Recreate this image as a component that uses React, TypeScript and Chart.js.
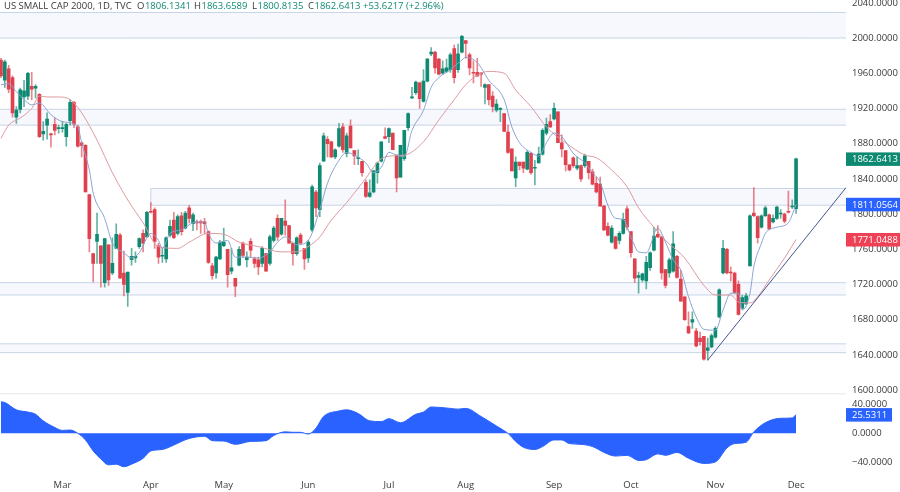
import { useEffect, useRef } from "react";
import { Chart, registerables } from "chart.js";

Chart.register(...registerables);

const opens = [
  1975, 1952, 1965, 1955, 1910, 1919, 1933, 1934, 1945, 1943,
  1936, 1891, 1901, 1891, 1902, 1897, 1897, 1888, 1906, 1927,
  1899, 1881, 1878, 1822, 1755, 1769, 1764, 1722, 1765, 1733,
  1761, 1776, 1733, 1711, 1748, 1750, 1763, 1778, 1774, 1803,
  1805, 1764, 1752, 1749, 1776, 1793, 1778, 1798, 1784, 1807,
  1789, 1791, 1791, 1791, 1780, 1741, 1733, 1749, 1764, 1760,
  1735, 1727, 1742, 1767, 1748, 1769, 1749, 1748, 1744, 1755,
  1744, 1770, 1795, 1777, 1792, 1787, 1767, 1755, 1776, 1761,
  1750, 1782, 1825, 1805, 1860, 1885, 1882, 1865, 1877, 1899,
  1869, 1900, 1872, 1863, 1860, 1836, 1820, 1825, 1847, 1860,
  1888, 1888, 1892, 1867, 1842, 1863, 1898, 1932, 1938, 1949,
  1928, 1951, 1982, 1984, 1976, 1960, 1962, 1964, 1988, 1964,
  1984, 1997, 1981, 1961, 1961, 1960, 1944, 1947, 1934, 1918,
  1919, 1914, 1893, 1874, 1841, 1859, 1859, 1851, 1869, 1852,
  1858, 1868, 1892, 1905, 1908, 1916, 1881, 1872, 1856, 1864,
  1852, 1855, 1855, 1860, 1848, 1835, 1834, 1809, 1786, 1768,
  1774, 1770, 1778, 1806, 1780, 1749, 1728, 1725, 1724, 1739,
  1759, 1777, 1774, 1737, 1733, 1735, 1752, 1726, 1706, 1672,
  1677, 1667, 1659, 1661, 1645, 1649, 1660, 1683, 1733, 1760,
  1734, 1733, 1720, 1693, 1698, 1741, 1801, 1797, 1785, 1798,
  1799, 1791, 1795, 1800, 1800, 1803, 1808, 1806.13,
];
const highs = [
  1977, 1975, 1969, 1957, 1922, 1943, 1952, 1961, 1961, 1947,
  1937, 1905, 1915, 1892, 1909, 1901, 1905, 1903, 1930, 1928,
  1901, 1882, 1879, 1822, 1755, 1801, 1764, 1772, 1765, 1773,
  1789, 1778, 1758, 1734, 1761, 1757, 1773, 1782, 1803, 1813,
  1807, 1767, 1761, 1774, 1793, 1802, 1799, 1802, 1803, 1810,
  1801, 1793, 1793, 1795, 1781, 1744, 1752, 1770, 1784, 1760,
  1761, 1727, 1763, 1768, 1757, 1772, 1751, 1751, 1763, 1755,
  1776, 1786, 1799, 1795, 1816, 1787, 1767, 1774, 1778, 1761,
  1770, 1833, 1827, 1858, 1892, 1888, 1883, 1874, 1903, 1903,
  1892, 1907, 1872, 1873, 1860, 1839, 1839, 1850, 1859, 1882,
  1898, 1898, 1892, 1867, 1878, 1895, 1915, 1944, 1951, 1950,
  1964, 1977, 1989, 1985, 1977, 1974, 1976, 1983, 1992, 1993,
  2003, 1997, 1983, 1974, 1977, 1961, 1948, 1947, 1939, 1930,
  1921, 1914, 1901, 1874, 1865, 1859, 1859, 1872, 1870, 1861,
  1876, 1897, 1909, 1913, 1926, 1916, 1890, 1872, 1856, 1865,
  1865, 1856, 1868, 1860, 1851, 1842, 1842, 1810, 1790, 1787,
  1775, 1780, 1801, 1809, 1780, 1749, 1734, 1733, 1752, 1757,
  1785, 1787, 1774, 1737, 1750, 1780, 1753, 1736, 1706, 1689,
  1689, 1670, 1666, 1661, 1659, 1664, 1672, 1715, 1770, 1761,
  1740, 1734, 1724, 1708, 1710, 1799, 1830, 1798, 1799, 1809,
  1800, 1799, 1809, 1805, 1801, 1826, 1816, 1863.66,
];
const lows = [
  1955, 1944, 1938, 1910, 1903, 1915, 1922, 1930, 1930, 1932,
  1887, 1884, 1885, 1876, 1890, 1892, 1893, 1877, 1901, 1898,
  1876, 1865, 1825, 1757, 1723, 1744, 1717, 1717, 1719, 1731,
  1761, 1727, 1707, 1695, 1742, 1745, 1761, 1757, 1774, 1801,
  1761, 1744, 1745, 1745, 1774, 1772, 1776, 1776, 1783, 1790,
  1781, 1782, 1778, 1778, 1744, 1726, 1727, 1748, 1763, 1717,
  1732, 1706, 1741, 1751, 1740, 1751, 1739, 1731, 1740, 1735,
  1742, 1768, 1770, 1776, 1776, 1767, 1742, 1753, 1766, 1737,
  1745, 1780, 1797, 1797, 1860, 1865, 1864, 1863, 1876, 1870,
  1865, 1875, 1856, 1856, 1843, 1819, 1819, 1824, 1835, 1859,
  1886, 1881, 1873, 1825, 1842, 1861, 1895, 1931, 1936, 1920,
  1927, 1950, 1980, 1960, 1958, 1959, 1961, 1961, 1949, 1961,
  1983, 1977, 1958, 1949, 1956, 1945, 1925, 1924, 1916, 1916,
  1905, 1894, 1869, 1849, 1831, 1850, 1847, 1850, 1845, 1833,
  1858, 1867, 1890, 1898, 1907, 1881, 1865, 1849, 1849, 1853,
  1850, 1837, 1853, 1840, 1833, 1824, 1809, 1781, 1775, 1767,
  1760, 1766, 1777, 1782, 1751, 1722, 1710, 1723, 1715, 1736,
  1758, 1773, 1726, 1716, 1728, 1734, 1727, 1701, 1679, 1664,
  1670, 1649, 1651, 1634, 1634, 1648, 1659, 1682, 1732, 1732,
  1724, 1710, 1685, 1692, 1697, 1741, 1797, 1767, 1784, 1797,
  1782, 1790, 1794, 1795, 1790, 1801, 1806, 1800.81,
];
const closes = [
  1957, 1973, 1942, 1915, 1918, 1941, 1940, 1960, 1942, 1945,
  1888, 1894, 1908, 1890, 1895, 1898, 1898, 1902, 1927, 1902,
  1877, 1878, 1825, 1772, 1744, 1777, 1744, 1772, 1725, 1744,
  1777, 1727, 1720, 1734, 1752, 1752, 1772, 1767, 1802, 1802,
  1769, 1751, 1753, 1773, 1786, 1773, 1797, 1780, 1801, 1795,
  1799, 1790, 1790, 1789, 1745, 1730, 1751, 1768, 1768, 1731,
  1739, 1718, 1760, 1753, 1751, 1759, 1744, 1740, 1761, 1735,
  1774, 1784, 1774, 1795, 1787, 1767, 1755, 1773, 1767, 1749,
  1768, 1831, 1807, 1855, 1889, 1880, 1865, 1873, 1897, 1873,
  1889, 1875, 1866, 1864, 1847, 1820, 1824, 1849, 1858, 1882,
  1886, 1897, 1873, 1841, 1878, 1895, 1914, 1933, 1950, 1931,
  1951, 1976, 1984, 1966, 1959, 1965, 1966, 1981, 1955, 1982,
  2002, 1994, 1966, 1960, 1957, 1959, 1947, 1930, 1922, 1925,
  1920, 1894, 1870, 1849, 1859, 1855, 1852, 1870, 1847, 1853,
  1868, 1895, 1902, 1899, 1920, 1881, 1874, 1856, 1850, 1855,
  1855, 1840, 1866, 1847, 1834, 1825, 1809, 1782, 1776, 1784,
  1761, 1778, 1794, 1785, 1756, 1727, 1730, 1732, 1745, 1756,
  1775, 1774, 1733, 1719, 1748, 1766, 1728, 1701, 1680, 1665,
  1680, 1650, 1655, 1635, 1648, 1662, 1670, 1714, 1761, 1733,
  1733, 1711, 1686, 1705, 1707, 1798, 1798, 1773, 1798, 1807,
  1783, 1795, 1808, 1801, 1792, 1802, 1809, 1862.64,
];

// moving averages at the candles where they bend
const fastMaDays = [
  0, 2, 4, 6, 8, 10, 13, 16, 20, 21, 23, 24, 27, 29, 32, 34, 36, 39, 41, 42, 44, 47, 50, 53, 54, 56, 59, 61,
  64, 67, 70, 72, 74, 77, 80, 83, 85, 88, 90, 92, 95, 97, 99, 101, 103, 105, 107, 110, 112, 114, 117, 120,
  121, 124, 127, 131, 133, 135, 138, 140, 142, 144, 146, 149, 152, 154, 156, 158, 160, 162, 164, 166, 168,
  171, 173, 175, 177, 179, 181, 183, 186, 188, 190, 192, 193, 195, 196, 198, 199, 202, 205, 207,
];
const fastMa = [
  1947, 1948, 1939, 1930, 1924, 1926, 1913, 1905, 1899, 1881, 1850, 1824, 1795, 1767, 1756, 1750, 1756, 1778,
  1770, 1761, 1778, 1782, 1790, 1791, 1778, 1767, 1770, 1751, 1751, 1750, 1757, 1768, 1774, 1765, 1770, 1805,
  1835, 1861, 1870, 1867, 1858, 1847, 1853, 1870, 1867, 1865, 1895, 1918, 1944, 1955, 1964, 1975, 1978, 1972,
  1952, 1930, 1899, 1881, 1870, 1866, 1881, 1892, 1888, 1869, 1858, 1847, 1836, 1810, 1795, 1794, 1774, 1757,
  1756, 1784, 1768, 1748, 1736, 1706, 1683, 1669, 1668, 1691, 1710, 1710, 1691, 1710, 1740, 1767, 1778, 1785,
  1790, 1811.06,
];
const slowMaDays = [
  0, 2, 5, 8, 10, 12, 15, 18, 21, 25, 29, 33, 37, 41, 46, 49, 54, 58, 62, 67, 73, 77, 80, 83, 86, 90, 94, 100,
  105, 110, 114, 118, 121, 125, 127, 131, 134, 138, 142, 147, 152, 155, 159, 163, 166, 170, 173, 178, 183, 186,
  190, 192, 195, 197, 200, 204, 207,
];
const slowMa = [
  1886, 1901, 1909, 1920, 1934, 1933, 1933, 1930, 1915, 1884, 1847, 1816, 1790, 1763, 1761, 1768, 1778, 1777,
  1768, 1763, 1757, 1757, 1763, 1774, 1793, 1813, 1835, 1865, 1867, 1882, 1907, 1930, 1947, 1960, 1962, 1960,
  1941, 1922, 1899, 1881, 1867, 1864, 1850, 1831, 1807, 1785, 1770, 1750, 1719, 1708, 1708, 1700, 1699, 1706,
  1725, 1750, 1771.05,
];
const oscDays = [
  0, 1, 4, 7, 9, 11, 14, 16, 18, 20, 22, 24, 26, 28, 30, 32, 34, 37, 39, 42, 45, 47, 49, 53, 55, 58, 61, 65, 69,
  71, 74, 76, 78, 80, 82, 84, 88, 90, 93, 96, 99, 101, 104, 108, 110, 112, 117, 119, 121, 125, 129, 131, 132,
  134, 136, 139, 141, 144, 146, 148, 151, 154, 157, 160, 163, 166, 168, 171, 173, 176, 179, 183, 186, 189, 191,
  194, 196, 199, 203, 206, 207,
];
const oscValues = [
  43, 42, 32, 29, 26, 17, 8, 4, 4.5, 0, -9, -24, -35, -43, -42, -45.5, -42, -34, -24, -22, -16, -11, -7, -4, -10,
  -10.5, -15, -11, -10, -3, 2, 1.4, 1.4, -1, 7, 23, 30.5, 32, 27, 17, 16, 20, 14.5, 26, 29, 36, 34, 33, 34, 23, 10,
  3.6, 0, -11, -19, -22, -18, -9, -9, -14, -15, -18, -26, -31, -30, -37, -36, -28, -30, -26, -34, -41, -39, -20,
  -14, -12, 2, 14.5, 20.5, 21, 25.53,
];

const monthDays = [16, 39, 58, 80, 101, 121, 144, 164, 186, 207];
const monthLabels = ["Mar", "Apr", "May", "Jun", "Jul", "Aug", "Sep", "Oct", "Nov", "Dec"];
const priceTicks = [1600, 1640, 1680, 1720, 1760, 1800, 1840, 1880, 1920, 1960, 2000, 2040];
const oscTicks = [-40, 0, 40];

// support / resistance zones, and the rising trend line
const zoneHighs = [2029, 1919, 1829, 1722, 1652.5];
const zoneLows = [2000, 1901, 1810, 1708, 1642.5];
const zoneStarts = [-0.26, -0.26, 39, -0.26, -0.26];
const trendDays = [184, 220];
const trendPrices = [1634, 1830];

const headerTitle = "US SMALL CAP 2000, 1D, TVC";
const headerKeys = ["O", "H", "L", "C"];
const headerValues = ["1806.1341", "1863.6589", "1800.8135", "1862.6413"];
const headerChange = "+53.6217 (+2.96%)";

const UP = "#0f8a72";
const DOWN = "#e0414f";
const FONT = '"Open Sans", sans-serif';

const toPoints = (xs: number[], ys: number[]) => xs.map((x, i) => ({ x, y: ys[i] }));

// Chart.js reserves room for half a tick label past each end of the axis; this layout has none
const clearPadding = (scale: any) => {
  scale.paddingLeft = 0;
  scale.paddingRight = 0;
  scale.paddingTop = 0;
  scale.paddingBottom = 0;
};

const overlayPlugin = {
  id: "overlay",
  beforeDatasetsDraw(chart: any) {
    const { ctx, scales, chartArea } = chart;
    const { x, y } = scales;
    ctx.save();
    zoneHighs.forEach((high, i) => {
      const left = x.getPixelForValue(zoneStarts[i]);
      const top = y.getPixelForValue(high);
      const bottom = y.getPixelForValue(zoneLows[i]);
      ctx.fillStyle = "#f6f8fd";
      ctx.fillRect(left, top, chartArea.right - left, bottom - top);
      ctx.strokeStyle = "#c8d5e6";
      ctx.lineWidth = 1;
      ctx.beginPath();
      ctx.moveTo(left, top);
      ctx.lineTo(chartArea.right, top);
      ctx.moveTo(left, bottom);
      ctx.lineTo(chartArea.right, bottom);
      if (zoneStarts[i] > 0) {
        ctx.moveTo(left, top);
        ctx.lineTo(left, bottom);
      }
      ctx.stroke();
    });
    ctx.strokeStyle = "#e6e6e6";
    ctx.beginPath();
    ctx.moveTo(0, y.bottom + 0.5);
    ctx.lineTo(chartArea.right, y.bottom + 0.5);
    ctx.stroke();
    ctx.restore();
  },
  afterDraw(chart: any) {
    const { ctx, scales } = chart;
    const { y, y2 } = scales;
    ctx.save();
    ctx.textBaseline = "middle";

    const tag = (text: string, color: string, cy: number, right: number) => {
      ctx.fillStyle = color;
      ctx.fillRect(846, cy - 6.5, right - 846, 13.5);
      ctx.fillStyle = "#ffffff";
      ctx.font = `9.5px ${FONT}`;
      ctx.fillText(text, 852, cy + 0.5);
    };
    tag("1862.6413", UP, y.getPixelForValue(closes[closes.length - 1]), 900);
    tag("1811.0564", "#2962ff", y.getPixelForValue(fastMa[fastMa.length - 1]), 900);
    tag("1771.0488", "#ef4155", y.getPixelForValue(slowMa[slowMa.length - 1]), 900);
    tag("25.5311", "#2962ff", y2.getPixelForValue(oscValues[oscValues.length - 1]), 892);

    ctx.font = `9.5px ${FONT}`;
    ctx.fillStyle = "#3a3a3a";
    ctx.fillText(headerTitle, 4, 6);
    const keyX = [137, 194, 252, 308];
    headerKeys.forEach((key, i) => {
      ctx.fillStyle = "#3a3a3a";
      ctx.fillText(key, keyX[i], 6);
      ctx.fillStyle = UP;
      ctx.fillText(headerValues[i], keyX[i] + ctx.measureText(key).width + 0.5, 6);
    });
    ctx.fillText(headerChange, 363, 6);
    ctx.restore();
  },
};

export default function App() {
  const canvasRef = useRef<HTMLCanvasElement>(null);

  useEffect(() => {
    if (!canvasRef.current) return;

    const wicks = highs.map((high, i) => ({ x: i, y: [lows[i], high] }));
    const bodies = opens.map((open, i) => ({ x: i, y: [open, closes[i]] }));
    const isUp = closes.map((close, i) => close >= opens[i]);

    const chart = new Chart(canvasRef.current, {
      type: "bar",
      data: {
        datasets: [
          {
            type: "line",
            data: toPoints(trendDays, trendPrices),
            yAxisID: "y",
            borderColor: "#47578f",
            borderWidth: 1,
            pointRadius: 0,
            order: 0,
          },
          {
            type: "line",
            data: toPoints(fastMaDays, fastMa),
            yAxisID: "y",
            borderColor: "#8aa4cf",
            borderWidth: 1,
            pointRadius: 0,
            cubicInterpolationMode: "monotone",
            order: 1,
          },
          {
            type: "line",
            data: toPoints(slowMaDays, slowMa),
            yAxisID: "y",
            borderColor: "#dd9ba1",
            borderWidth: 1,
            pointRadius: 0,
            cubicInterpolationMode: "monotone",
            order: 2,
          },
          {
            type: "bar",
            data: bodies,
            yAxisID: "y",
            barThickness: 3,
            minBarLength: 1,
            grouped: false,
            backgroundColor: isUp.map(up => (up ? UP : DOWN)),
            order: 3,
          },
          {
            type: "bar",
            data: wicks,
            yAxisID: "y",
            barThickness: 1,
            grouped: false,
            backgroundColor: isUp.map(up => (up ? "rgba(15,138,114,0.65)" : "rgba(224,65,79,0.65)")),
            order: 4,
          },
          {
            type: "line",
            data: toPoints(oscDays, oscValues),
            yAxisID: "y2",
            borderColor: "#2962ff",
            borderWidth: 1,
            backgroundColor: "#2962ff",
            pointRadius: 0,
            cubicInterpolationMode: "monotone",
            fill: { value: 0 },
            order: 5,
          },
        ],
      } as any,
      options: {
        animation: false,
        responsive: true,
        maintainAspectRatio: false,
        layout: { padding: 0, autoPadding: false },
        plugins: { legend: { display: false }, tooltip: { enabled: false } },
        scales: {
          x: {
            type: "linear",
            offset: false,
            min: -0.26,
            max: 220,
            bounds: "data",
            grid: { display: false, drawTicks: false },
            border: { display: false },
            afterBuildTicks: (scale: any) => {
              scale.ticks = monthDays.map(value => ({ value }));
            },
            afterFit: (scale: any) => {
              scale.height = 22;
              clearPadding(scale);
            },
            ticks: {
              autoSkip: false,
              maxRotation: 0,
              padding: 10,
              color: "#3a3a3a",
              font: { family: FONT, size: 9.5 },
              callback: (value: any) => monthLabels[monthDays.indexOf(value)],
            },
          },
          y: {
            type: "linear",
            position: "right",
            stack: "panes",
            stackWeight: 393.3,
            min: 1596.3,
            max: 2043.2,
            bounds: "data",
            grid: { display: false, drawTicks: false },
            border: { display: false },
            afterBuildTicks: (scale: any) => {
              scale.ticks = priceTicks.map(value => ({ value }));
            },
            afterFit: (scale: any) => {
              scale.width = 54;
              clearPadding(scale);
            },
            ticks: {
              autoSkip: false,
              padding: 6,
              color: "#3a3a3a",
              font: { family: FONT, size: 9.5 },
              callback: (value: any) => Number(value).toFixed(4),
            },
          },
          y2: {
            type: "linear",
            position: "right",
            stack: "panes",
            stackWeight: 76.7,
            min: -50,
            max: 54.6,
            bounds: "data",
            grid: { display: false, drawTicks: false },
            border: { display: false },
            afterBuildTicks: (scale: any) => {
              scale.ticks = oscTicks.map(value => ({ value }));
            },
            afterFit: (scale: any) => {
              scale.width = 54;
              clearPadding(scale);
            },
            ticks: {
              autoSkip: false,
              padding: 6,
              color: "#3a3a3a",
              font: { family: FONT, size: 9.5 },
              callback: (value: any) => Number(value).toFixed(4).replace("-", "\u2212"),
            },
          },
        },
      },
      plugins: [overlayPlugin],
    } as any);

    return () => {
      chart.destroy();
    };
  }, []);

  return (
    <div style={{ position: "absolute", left: 0, top: 0, width: 900, height: 492, background: "#ffffff" }}>
      <canvas ref={canvasRef} />
    </div>
  );
}
